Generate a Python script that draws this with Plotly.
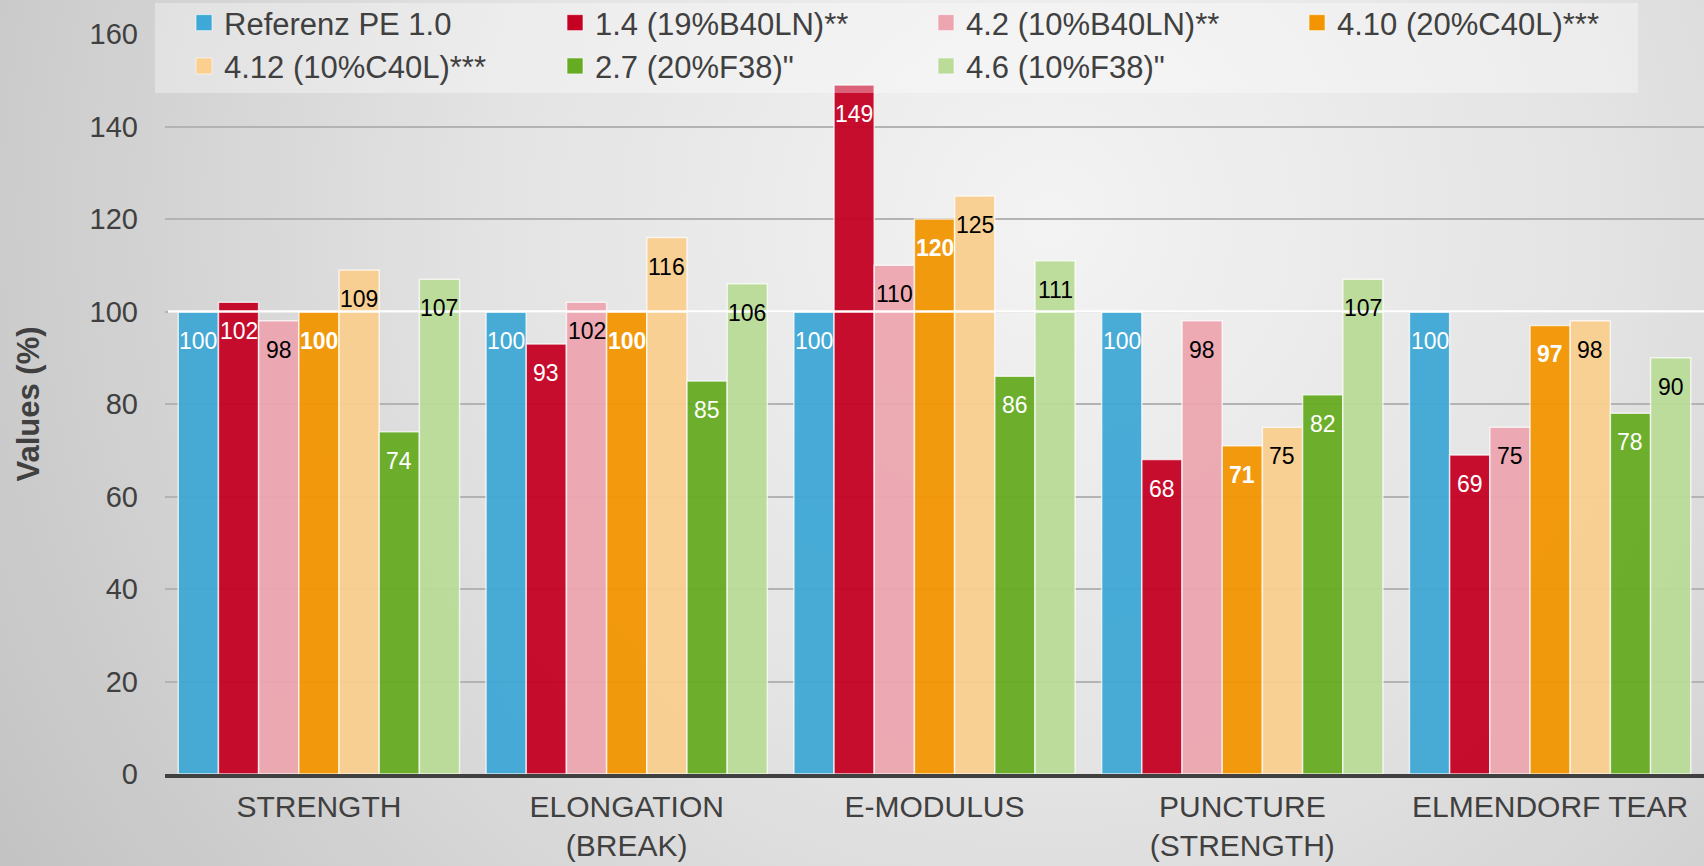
import base64
import plotly.graph_objects as go

# Categories and test results (% relative to reference PE 1.0)
categories = ["STRENGTH", "ELONGATION<br>(BREAK)", "E-MODULUS", "PUNCTURE<br>(STRENGTH)", "ELMENDORF TEAR"]
series_names = [
    "Referenz PE 1.0",
    "1.4 (19%B40LN)**",
    "4.2 (10%B40LN)**",
    "4.10 (20%C40L)***",
    "4.12 (10%C40L)***",
    "2.7 (20%F38)\"",
    "4.6 (10%F38)\"",
]
ref_pe_10 = [100, 100, 100, 100, 100]
s_1_4 = [102, 93, 149, 68, 69]
s_4_2 = [98, 102, 110, 98, 75]
s_4_10 = [100, 100, 120, 71, 97]
s_4_12 = [109, 116, 125, 75, 98]
s_2_7 = [74, 85, 86, 82, 78]
s_4_6 = [107, 106, 111, 107, 90]
y_ticks = [0, 20, 40, 60, 80, 100, 120, 140, 160]

series_values = [ref_pe_10, s_1_4, s_4_2, s_4_10, s_4_12, s_2_7, s_4_6]
bar_colors = ["#3EA8D6", "#C50023", "#EDA6B0", "#F39500", "#FACF8F", "#66AC22", "#BADC98"]
label_colors = ["white", "white", "black", "white", "black", "white", "black"]
label_bold = [False, False, False, True, False, False, False]

W, H = 1704, 866
ML, MR, MT, MB = 165, 0, 34, 92
BARGAP = 0.086
FONT = "Arial, Liberation Sans, sans-serif"
DARK = "#404040"
pw = W - ML - MR
ph = H - MT - MB


def px_x(px):
    """page pixel column -> paper x"""
    return (px - ML) / pw


def px_y(py):
    """page pixel row -> paper y"""
    return (H - MB - py) / ph


fig = go.Figure()
for name, vals, col in zip(series_names, series_values, bar_colors):
    fig.add_trace(go.Bar(
        x=categories, y=vals, name=name, showlegend=False,
        marker=dict(color=col, line=dict(color="rgba(255,255,255,0.75)", width=1.5)),
        opacity=0.94,
    ))

# legend entries with larger square swatches
for name, col in zip(series_names, bar_colors):
    fig.add_trace(go.Scatter(
        x=[None], y=[None], mode="markers", name=name,
        marker=dict(symbol="square", size=16, color=col,
                    line=dict(color="rgba(255,255,255,0.6)", width=1)),
    ))

# value labels just below the top of each bar
n = len(series_values)
bw = (1 - BARGAP) / n
annotations = []
for k, vals in enumerate(series_values):
    for i, v in enumerate(vals):
        xpos = i - (1 - BARGAP) / 2 + bw * (k + 0.5)
        txt = f"<b>{v}</b>" if label_bold[k] else str(v)
        annotations.append(dict(
            x=xpos, y=v, xref="x", yref="y", text=txt, showarrow=False,
            yanchor="middle", xanchor="center", yshift=-29,
            font=dict(family=FONT, size=23, color=label_colors[k]),
        ))

# soft grey radial backdrop behind the whole figure
svg = f'''<svg xmlns="http://www.w3.org/2000/svg" width="{W}" height="{H}">
<defs><radialGradient id="g" gradientUnits="userSpaceOnUse" cx="1050" cy="220" r="1250">
<stop offset="0" stop-color="#f3f3f3"/><stop offset="0.45" stop-color="#e3e3e3"/><stop offset="1" stop-color="#c2c2c2"/>
</radialGradient></defs><rect width="{W}" height="{H}" fill="url(#g)"/></svg>'''
src = "data:image/svg+xml;base64," + base64.b64encode(svg.encode()).decode()

fig.update_layout(
    width=W, height=H,
    margin=dict(l=ML, r=MR, t=MT, b=MB, autoexpand=False),
    paper_bgcolor="rgba(0,0,0,0)", plot_bgcolor="rgba(0,0,0,0)",
    barmode="group", bargap=BARGAP, bargroupgap=0,
    font=dict(family=FONT, color=DARK),
    images=[dict(source=src, xref="paper", yref="paper",
                 x=px_x(0), y=px_y(0), sizex=W / pw, sizey=H / ph,
                 sizing="stretch", xanchor="left", yanchor="top", layer="below")],
    legend=dict(
        orientation="h", x=px_x(184), y=px_y(-4), xanchor="left", yanchor="top",
        bgcolor="rgba(0,0,0,0)", entrywidth=326,
        font=dict(family=FONT, size=31, color=DARK), traceorder="normal",
    ),
    annotations=annotations,
    shapes=[
        dict(type="line", xref="paper", yref="y", x0=0.002, x1=1, y0=100, y1=100,
             line=dict(color="white", width=2.5), layer="above"),
        # translucent panel behind the legend entries
        dict(type="rect", xref="paper", yref="paper",
             x0=px_x(155), x1=px_x(1638), y0=px_y(93), y1=px_y(3),
             fillcolor="rgba(255,255,255,0.35)", line=dict(width=0), layer="above"),
    ],
    xaxis=dict(
        showline=True, linecolor=DARK, linewidth=4, showgrid=False,
        ticks="", ticklabelstandoff=3, tickfont=dict(family=FONT, size=30, color=DARK),
        range=[-0.5, 4.5], fixedrange=True,
    ),
    yaxis=dict(
        range=[0, 160], tickvals=y_ticks, showgrid=True, gridcolor="#b3b3b3", gridwidth=2,
        zeroline=False, showline=False, ticks="", ticklabelstandoff=26,
        tickfont=dict(family=FONT, size=29, color=DARK),
        title=dict(text="<b>Values (%)</b>", font=dict(family=FONT, size=31, color=DARK), standoff=40),
        automargin=False,
    ),
)

fig.write_html("out.html")
